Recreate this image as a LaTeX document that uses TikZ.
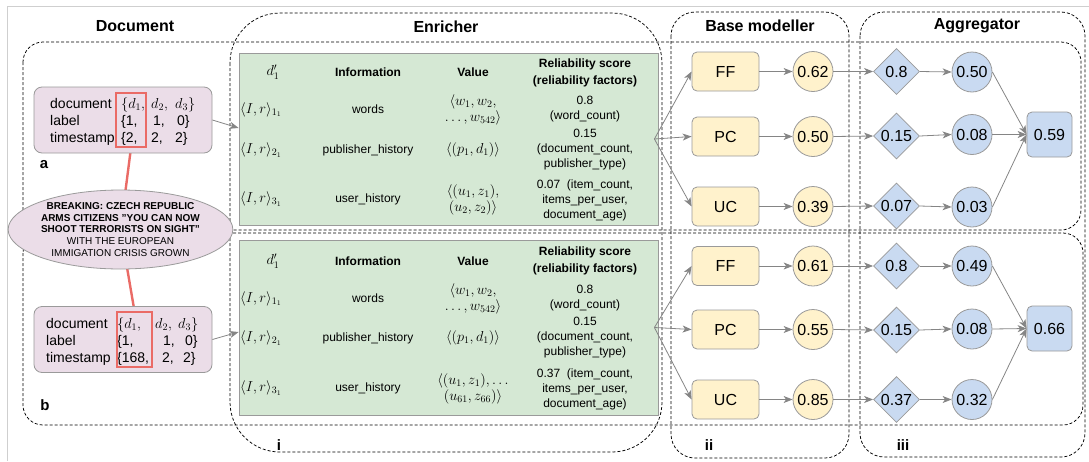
\documentclass[tikz,border=0pt]{standalone}
\usepackage{fontspec}
\setmainfont{Liberation Sans}
\usetikzlibrary{shapes.geometric,arrows.meta,calc}
\pgfdeclarelayer{bg}
\pgfsetlayers{bg,main}
\definecolor{pinkf}{HTML}{EBDDE8}
\definecolor{greenf}{HTML}{D5E8D4}
\definecolor{yellowf}{HTML}{FFF2CC}
\definecolor{bluef}{HTML}{C9DAF1}
\definecolor{boxgray}{HTML}{9A9A9A}
\definecolor{arrgray}{HTML}{858585}
\definecolor{redl}{HTML}{EA6B66}
\definecolor{framegray}{HTML}{CFCFCF}
\begin{document}
\begin{tikzpicture}[x=1pt,y=-1pt,
  dbox/.style={draw=black, line width=0.75pt, dash pattern=on 3pt off 2pt},
  title/.style={font=\bfseries\fontsize{16}{18}\selectfont, inner sep=0},
  sub/.style={font=\bfseries\fontsize{15}{17}\selectfont, inner sep=0},
  docbox/.style={draw=boxgray, fill=pinkf, rounded corners=8pt, line width=0.8pt, minimum width=178pt, minimum height=66pt},
  dtxt/.style={font=\fontsize{14}{16}\selectfont, inner sep=0, anchor=base west},
  redbox/.style={draw=redl, line width=1.6pt, inner sep=0},
  tab/.style={draw=boxgray, fill=greenf, line width=0.8pt, minimum width=419pt},
  tt/.style={font=\fontsize{12}{15}\selectfont, align=center, inner sep=0},
  tm/.style={font=\fontsize{14.5}{16}\selectfont, align=center, inner sep=0},
  tth/.style={font=\bfseries\fontsize{12}{17}\selectfont, align=center, inner sep=0},
  bm/.style={draw=boxgray, fill=yellowf, rounded corners=5pt, line width=0.8pt, minimum width=67pt, minimum height=39pt, inner sep=0, font=\fontsize{16}{18}\selectfont},
  ycirc/.style={circle, draw=boxgray, fill=yellowf, line width=0.8pt, minimum size=40pt, inner sep=0, font=\fontsize{16}{18}\selectfont},
  bdia/.style={diamond, draw=boxgray, fill=bluef, line width=0.8pt, minimum width=46pt, minimum height=46pt, inner sep=0, font=\fontsize{16}{18}\selectfont},
  bcirc/.style={circle, draw=boxgray, fill=bluef, line width=0.8pt, minimum size=40pt, inner sep=0, font=\fontsize{16}{18}\selectfont},
  fin/.style={draw=boxgray, fill=bluef, rounded corners=5pt, line width=0.8pt, minimum width=45pt, minimum height=45pt, inner sep=0, font=\fontsize{16}{18}\selectfont},
  arr/.style={draw=arrgray, line width=0.8pt, -{Stealth[length=9pt,width=7pt,inset=2.5pt]}}
]
\useasboundingbox (0,0) rectangle (1089,461);
\draw[framegray, line width=1pt] (7,461) -- (7,6) -- (1089,6);

% titles
\node[title] (tdoc) at (135,26) {Document};
\node[title] (tenr) at (446,27) {Enricher};
\node[title] (tbm) at (760,26) {Base modeller};
\node[title] (tagg) at (977,26) {Aggregator};
\node[sub] (la) at (44,165) {a};
\node[sub] (lb) at (45,405) {b};
\node[sub] (li) at (279,445) {i};
\node[sub] (lii) at (709,445) {ii};
\node[sub] (liii) at (903,445) {iii};

% ellipse
\node[ellipse, draw=boxgray, fill=pinkf, line width=0.8pt, minimum width=221pt, minimum height=79pt, inner sep=0, align=center, font=\fontsize{10}{11.7}\selectfont] (ell) at (120.5,229.5)
 {\textbf{BREAKING: CZECH REPUBLIC}\\\textbf{ARMS CITIZENS "YOU CAN NOW}\\\textbf{SHOOT TERRORISTS ON SIGHT"}\\WITH THE EUROPEAN\\IMMIGATION CRISIS GROWN};

% document boxes
\node[docbox] (doca) at (123,120) {};
\node[docbox] (docb) at (123,339.5) {};
\node[dtxt] (a11) at (50,108) {document};
\node[dtxt] (a21) at (50,125) {label};
\node[dtxt] (a31) at (50,142) {timestamp};
\node[dtxt] (a12) at (121,108) {$\{d_1,$};
\node[dtxt] (a13) at (151,108) {$d_2,$};
\node[dtxt] (a14) at (175,108) {$d_3\}$};
\node[dtxt] (a22) at (121,125) {\{1,};
\node[dtxt] (a23) at (153,125) {1,};
\node[dtxt] (a24) at (177,125) {0\}};
\node[dtxt] (a32) at (121,142) {\{2,};
\node[dtxt] (a33) at (151,142) {2,};
\node[dtxt] (a34) at (175,142) {2\}};
\node[dtxt] (b11) at (46,328) {document};
\node[dtxt] (b21) at (46,345) {label};
\node[dtxt] (b31) at (46,362) {timestamp};
\node[dtxt] (b12) at (117,328) {$\{d_1,$};
\node[dtxt] (b13) at (155,328) {$d_2,$};
\node[dtxt] (b14) at (178,328) {$d_3\}$};
\node[dtxt] (b22) at (117,345) {\{1,};
\node[dtxt] (b23) at (163,345) {1,};
\node[dtxt] (b24) at (185,345) {0\}};
\node[dtxt] (b32) at (117,362) {\{168,};
\node[dtxt] (b33) at (162,362) {2,};
\node[dtxt] (b34) at (183,362) {2\}};
\node[redbox, minimum width=30pt, minimum height=54pt] (ra) at (131,120) {};
\node[redbox, minimum width=35pt, minimum height=55pt] (rb) at (134.5,339.5) {};

% tables
\node[tab, minimum height=172pt] (taba) at (448.5,139) {};
\node[tab, minimum height=175pt] (tabb) at (448.5,327.5) {};
% table a
\node[tm] (ah1) at (273,72) {$d'_1$};
\node[tth] (ah2) at (368,72) {Information};
\node[tth] (ah3) at (473,72) {Value};
\node[tth] (ah4) at (585,72.5) {Reliability score\\(reliability factors)};
\node[tm, anchor=west] (ar1) at (240,109.5) {$\langle I,r\rangle_{1_1}$};
\node[tt] (ai1) at (368,109.5) {words};
\node[tm] (av1) at (473,109.5) {$\langle w_1, w_2,$\\$\ldots, w_{542}\rangle$};
\node[tt] (as1) at (585,109.5) {0.8\\(word\_count)};
\node[tm, anchor=west] (ar2) at (240,150) {$\langle I,r\rangle_{2_1}$};
\node[tt] (ai2) at (368,150) {publisher\_history};
\node[tm] (av2) at (473,150) {$\langle (p_1,d_1)\rangle$};
\node[tt] (as2) at (585,149.5) {0.15\\(document\_count,\\publisher\_type)};
\node[tm, anchor=west] (ar3) at (240,199) {$\langle I,r\rangle_{3_1}$};
\node[tt] (ai3) at (368,199) {user\_history};
\node[tm] (av3) at (473,200) {$\langle (u_1,z_1),$\\$(u_2,z_2)\rangle$};
\node[tt] (as3) at (585,200) {0.07\ \ (item\_count,\\items\_per\_user,\\document\_age)};
% table b
\node[tm] (bh1) at (273,261) {$d'_1$};
\node[tth] (bh2) at (368,261) {Information};
\node[tth] (bh3) at (473,261) {Value};
\node[tth] (bh4) at (585,261) {Reliability score\\(reliability factors)};
\node[tm, anchor=west] (br1) at (240,298.5) {$\langle I,r\rangle_{1_1}$};
\node[tt] (bi1) at (368,298.5) {words};
\node[tm] (bv1) at (473,298.5) {$\langle w_1, w_2,$\\$\ldots, w_{542}\rangle$};
\node[tt] (bs1) at (585,298.5) {0.8\\(word\_count)};
\node[tm, anchor=west] (br2) at (240,338) {$\langle I,r\rangle_{2_1}$};
\node[tt] (bi2) at (368,338) {publisher\_history};
\node[tm] (bv2) at (473,338) {$\langle (p_1,d_1)\rangle$};
\node[tt] (bs2) at (585,338) {0.15\\(document\_count,\\publisher\_type)};
\node[tm, anchor=west] (br3) at (240,388) {$\langle I,r\rangle_{3_1}$};
\node[tt] (bi3) at (368,388) {user\_history};
\node[tm] (bv3) at (473,388.5) {$\langle (u_1,z_1),\ldots$\\$(u_{61},z_{66})\rangle$};
\node[tt] (bs3) at (585,389) {0.37\ \ (item\_count,\\items\_per\_user,\\document\_age)};

% base modeller
\node[bm] (ffa) at (725.5,71.5) {FF};
\node[bm] (pca) at (725.5,136.5) {PC};
\node[bm] (uca) at (725.5,206.5) {UC};
\node[bm] (ffb) at (725.5,266) {FF};
\node[bm] (pcb) at (725.5,329.5) {PC};
\node[bm] (ucb) at (725.5,399.5) {UC};
\node[ycirc] (ya1) at (813,71.5) {0.62};
\node[ycirc] (ya2) at (813,136.5) {0.50};
\node[ycirc] (ya3) at (813,206.5) {0.39};
\node[ycirc] (yb1) at (813,266) {0.61};
\node[ycirc] (yb2) at (813,329.5) {0.55};
\node[ycirc] (yb3) at (813,399.5) {0.85};

% aggregator
\node[bdia] (da1) at (896.5,71.5) {0.8};
\node[bdia] (da2) at (896.5,136) {0.15};
\node[bdia] (da3) at (896.5,206) {0.07};
\node[bdia] (db1) at (896.5,266) {0.8};
\node[bdia] (db2) at (896.5,330) {0.15};
\node[bdia] (db3) at (896.5,399.5) {0.37};
\node[bcirc] (ca1) at (972,72) {0.50};
\node[bcirc] (ca2) at (972,134.5) {0.08};
\node[bcirc] (ca3) at (972,207) {0.03};
\node[bcirc] (cb1) at (972,266) {0.49};
\node[bcirc] (cb2) at (972,329) {0.08};
\node[bcirc] (cb3) at (972,399.5) {0.32};
\node[fin] (fa) at (1049.5,134.5) {0.59};
\node[fin] (fb) at (1049.5,328.5) {0.66};

% background: dashed groups and red links
\begin{pgfonlayer}{bg}
\draw[dbox, rounded corners=50pt] (230,13) rectangle (662,452);
\draw[dbox, rounded corners=24pt] (671,12) rectangle (849,458);
\draw[dbox, rounded corners=24pt] (860,12) rectangle (1085,457);
\draw[dbox, rounded corners=20pt] (23,42) rectangle (1081,230);
\draw[dbox, rounded corners=20pt] (23,233) rectangle (1083,425);
\draw[redl, line width=2.4pt] (ra.south) -- (ell.center);
\draw[redl, line width=2.4pt] (rb.north) -- (ell.center);
\end{pgfonlayer}

% arrows
\draw[arr] (doca.east) -- ([yshift=11pt]taba.west);
\draw[arr] (docb.east) -- ([yshift=-4.5pt]tabb.west);
\foreach \t/\f/\p/\u in {taba/ffa/pca/uca, tabb/ffb/pcb/ucb}{
  \draw[arr] ([xshift=-4pt]\t.east) -- (\f.west);
  \draw[arr] ([xshift=-4pt]\t.east) -- (\p.west);
  \draw[arr] ([xshift=-4pt]\t.east) -- (\u.west);
}
\foreach \r in {a,b}{
  \draw[arr] (ff\r.east) -- (y\r1.west);
  \draw[arr] (pc\r.east) -- (y\r2.west);
  \draw[arr] (uc\r.east) -- (y\r3.west);
  \foreach \i in {1,2,3}{
    \draw[arr] (y\r\i.east) -- (d\r\i.west);
    \draw[arr] (d\r\i.east) -- (c\r\i.west);
    \draw[arr] (c\r\i.east) -- (f\r.west);
  }
}
\end{tikzpicture}
\end{document}
